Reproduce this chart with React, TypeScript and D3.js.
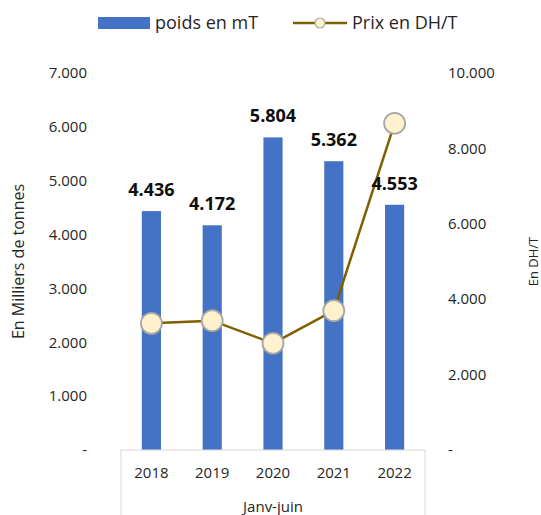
import React from "react";
import * as d3 from "d3";

const categories = ["2018", "2019", "2020", "2021", "2022"];
const poids = [4436, 4172, 5804, 5362, 4553];
const prix = [3360, 3430, 2830, 3695, 8666];
const leftTicks = [0, 1000, 2000, 3000, 4000, 5000, 6000, 7000];
const rightTicks = [0, 2000, 4000, 6000, 8000, 10000];
const groupLabel = "Janv-juin";

const W = 541;
const H = 515;
const plotTop = 73;
const plotBottom = 450;
const plotLeft = 121;
const plotRight = 425;
const font = "'Open Sans', sans-serif";

const fmt = (v: number) => (v === 0 ? "-" : d3.format(",")(v).replace(/,/g, "."));

export default function App() {
  const x = d3.scaleBand<string>().domain(categories).range([plotLeft, plotRight]).paddingInner(0.685).paddingOuter(0.3425);
  const yL = d3.scaleLinear().domain([0, 7000]).range([plotBottom, plotTop]);
  const yR = d3.scaleLinear().domain([0, 10000]).range([plotBottom, plotTop]);
  const cx = (c: string) => (x(c) as number) + x.bandwidth() / 2;
  const line = d3
    .line<number>()
    .x((_, i) => cx(categories[i]))
    .y((d) => yR(d));

  return (
    <svg width={W} height={H} style={{ position: "absolute", left: 0, top: 0, background: "#fff" }} fontFamily={font}>
      {/* legend */}
      <rect x={98} y={17} width={52} height={12} fill="#4472C4" />
      <text x={155} y={29} fontSize={18} fill="#262626">poids en mT</text>
      <line x1={293} x2={347} y1={23} y2={23} stroke="#7F6000" strokeWidth={2.5} />
      <circle cx={320} cy={23} r={5} fill="#FFF2CC" stroke="#A6A6A6" strokeWidth={1.2} />
      <text x={352} y={29} fontSize={18} fill="#262626">Prix en DH/T</text>

      {/* left axis */}
      {leftTicks.map((t) => (
        <text key={"l" + t} x={87} y={yL(t)} dy="0.35em" textAnchor="end" fontSize={15} fill="#262626">
          {fmt(t)}
        </text>
      ))}
      {/* right axis */}
      {rightTicks.map((t) => (
        <text key={"r" + t} x={448} y={yR(t)} dy="0.35em" textAnchor="start" fontSize={15} fill="#262626">
          {fmt(t)}
        </text>
      ))}
      <text transform={`translate(24,${(plotTop + plotBottom) / 2}) rotate(-90)`} textAnchor="middle" fontSize={16} fill="#262626">
        En Milliers de tonnes
      </text>
      <text transform={`translate(538,${(plotTop + plotBottom) / 2}) rotate(-90)`} textAnchor="middle" fontSize={13} fill="#262626">
        En DH/T
      </text>

      {/* bars */}
      {categories.map((c, i) => (
        <rect key={"b" + c} x={x(c)} y={yL(poids[i])} width={x.bandwidth()} height={plotBottom - yL(poids[i])} fill="#4472C4" />
      ))}

      {/* category axis box */}
      <rect x={plotLeft} y={plotBottom} width={plotRight - plotLeft} height={80} fill="none" stroke="#D9D9D9" strokeWidth={1} />
      {categories.map((c) => (
        <text key={"c" + c} x={cx(c)} y={478} textAnchor="middle" fontSize={15} fill="#262626">
          {c}
        </text>
      ))}
      <text x={(plotLeft + plotRight) / 2} y={512} textAnchor="middle" fontSize={15} fill="#262626">
        {groupLabel}
      </text>

      {/* line */}
      <path d={line(prix) || ""} fill="none" stroke="#7F6000" strokeWidth={2.5} />
      {prix.map((v, i) => (
        <circle key={"p" + i} cx={cx(categories[i])} cy={yR(v)} r={10.5} fill="#FFF2CC" stroke="#A6A6A6" strokeWidth={1.8} />
      ))}

      {/* bar labels */}
      {categories.map((c, i) => (
        <text key={"t" + c} x={cx(c)} y={yL(poids[i]) - 15} textAnchor="middle" fontSize={18} fontWeight="bold" fill="#0D0D0D">
          {fmt(poids[i])}
        </text>
      ))}
    </svg>
  );
}
